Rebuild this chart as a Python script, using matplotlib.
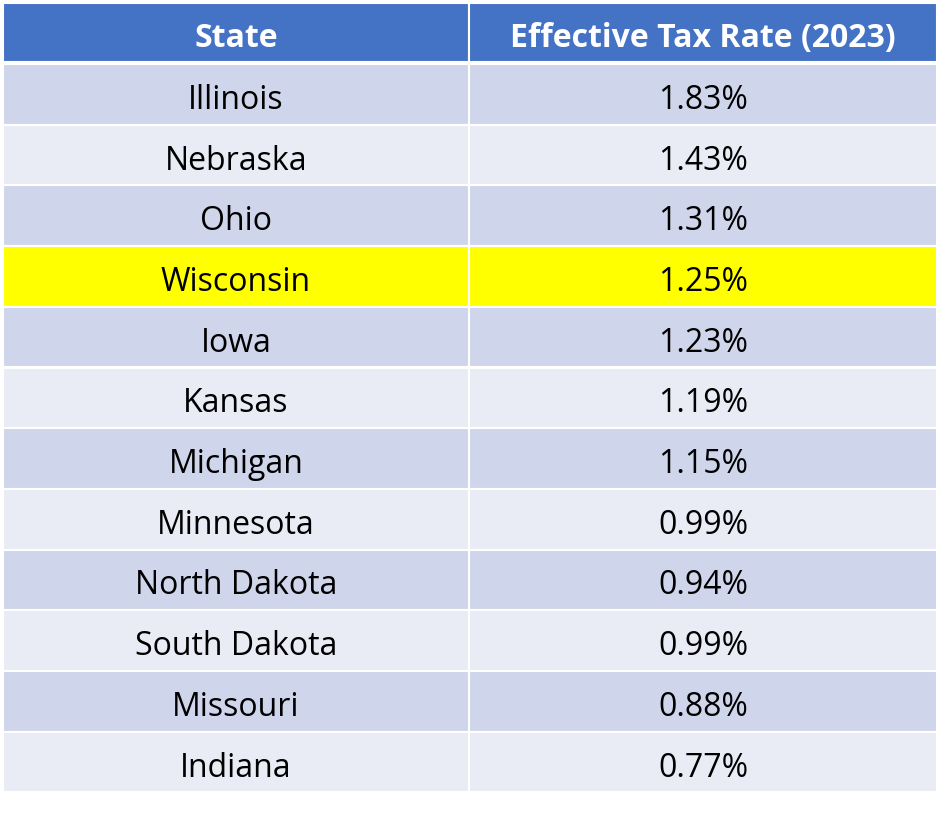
import matplotlib
matplotlib.use("Agg")
import matplotlib.pyplot as plt
from matplotlib.patches import Rectangle

HEADERS = ["State", "Effective Tax Rate (2023)"]
STATES = ["Illinois", "Nebraska", "Ohio", "Wisconsin", "Iowa", "Kansas", "Michigan",
          "Minnesota", "North Dakota", "South Dakota", "Missouri", "Indiana"]
RATES = [1.83, 1.43, 1.31, 1.25, 1.23, 1.19, 1.15, 0.99, 0.94, 0.99, 0.88, 0.77]
HIGHLIGHT = "Wisconsin"

HEAD_C = "#4472C4"
ODD_C = "#CFD5EA"
EVEN_C = "#E9EBF5"
YELLOW = "#FFFF00"

W, H = 941, 819
fig = plt.figure(figsize=(W / 100, H / 100), dpi=100)
ax = fig.add_axes([0, 0, 1, 1])
ax.set_xlim(0, W); ax.set_ylim(H, 0); ax.axis("off")

x0, xm, x1 = 3, 469, 937
head_top, head_bot = 3, 62
row_top, row_h = 64, 60.7
FONT = "Open Sans"


def cell(x, y, w, h, color):
    ax.add_patch(Rectangle((x, y), w, h, facecolor=color, edgecolor="white", lw=1.5))


cell(x0, head_top, xm - x0, head_bot - head_top, HEAD_C)
cell(xm, head_top, x1 - xm, head_bot - head_top, HEAD_C)
for hx, txt in zip([(x0 + xm) / 2, (xm + x1) / 2], HEADERS):
    ax.text(hx, (head_top + head_bot) / 2 + 6, txt, ha="center", va="center",
            color="white", fontsize=23, fontweight="bold", family=FONT)

for i, (s, r) in enumerate(zip(STATES, RATES)):
    y = row_top + i * row_h
    c = YELLOW if s == HIGHLIGHT else (ODD_C if i % 2 == 0 else EVEN_C)
    cell(x0, y, xm - x0, row_h, c)
    cell(xm, y, x1 - xm, row_h, c)
    ax.text((x0 + xm) / 2, y + row_h / 2 + 6, s, ha="center", va="center",
            fontsize=23, family=FONT, color="black")
    ax.text((xm + x1) / 2, y + row_h / 2 + 6, f"{r:.2f}%", ha="center", va="center",
            fontsize=23, family=FONT, color="black")

fig.savefig("out.png", dpi=100, facecolor="white")
